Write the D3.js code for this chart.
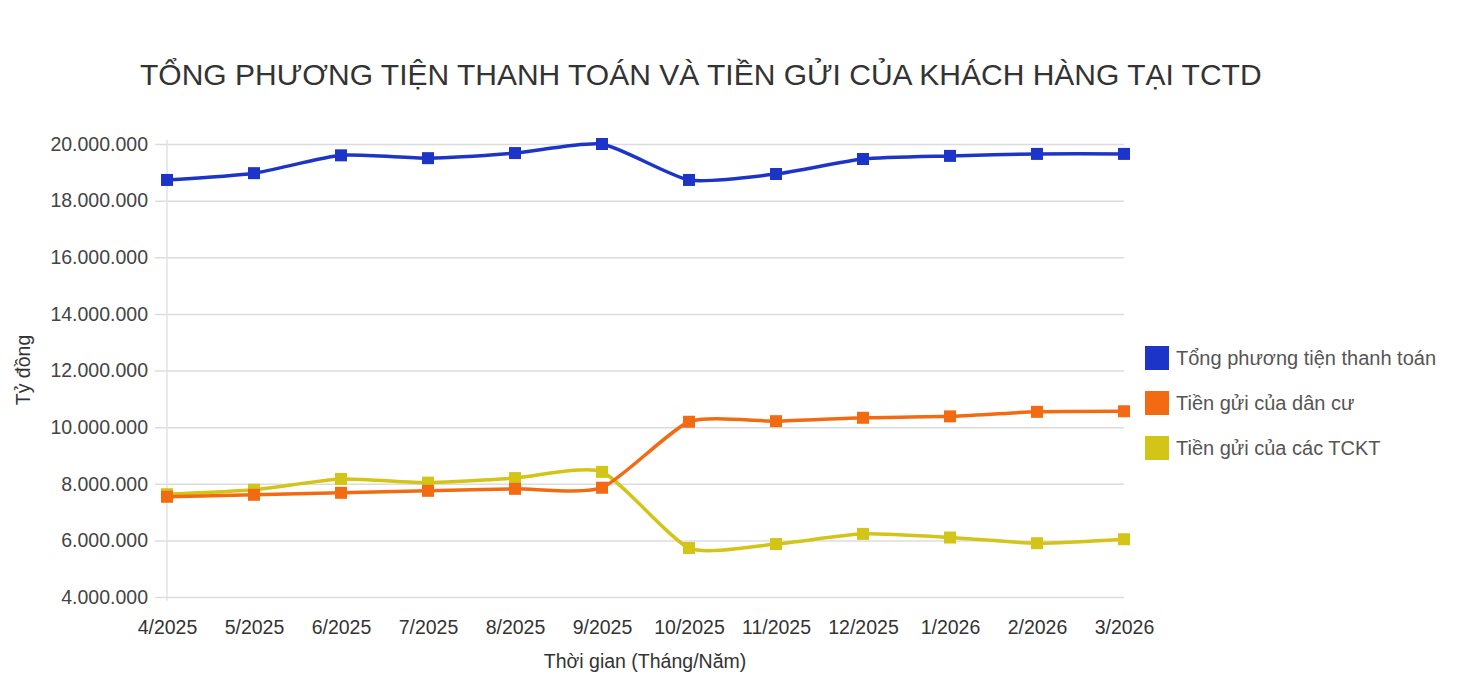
<!DOCTYPE html>
<html>
<head>
<meta charset="utf-8">
<script src="https://cdn.jsdelivr.net/npm/d3@7"></script>
<style>
  body { margin: 0; background: #fff; }
  svg text { font-family: "Liberation Sans", Arial, sans-serif; }
</style>
</head>
<body>
<div id="chart"></div>
<script>
// Data for the chart
const months = ["4/2025", "5/2025", "6/2025", "7/2025", "8/2025", "9/2025",
                "10/2025", "11/2025", "12/2025", "1/2026", "2/2026", "3/2026"];
const tongPhuongTien = [18730000, 18970000, 19600000, 19500000, 19680000, 20000000,
                        18730000, 18940000, 19470000, 19580000, 19650000, 19650000];
const tienGuiDanCu = [7540000, 7610000, 7680000, 7750000, 7820000, 7860000,
                      10190000, 10210000, 10330000, 10380000, 10540000, 10560000];
const tienGuiTCKT = [7630000, 7790000, 8170000, 8040000, 8200000, 8420000,
                     5730000, 5870000, 6230000, 6100000, 5900000, 6040000];
const yTicks = [4000000, 6000000, 8000000, 10000000, 12000000, 14000000, 16000000, 18000000, 20000000];

const series = [
    { name: "Tổng phương tiện thanh toán", values: tongPhuongTien, color: "#1c35c8" },
    { name: "Tiền gửi của dân cư", values: tienGuiDanCu, color: "#f26b12" },
    { name: "Tiền gửi của các TCKT", values: tienGuiTCKT, color: "#d3c418" }
];

const W = 1460, H = 696;
const plot = { left: 167, right: 1124, top: 144, bottom: 597 };

const svg = d3.select("#chart")
    .append("svg")
    .attr("width", W)
    .attr("height", H);

const locale = d3.formatLocale({ decimal: ",", thousands: ".", grouping: [3], currency: ["", ""] });
const fmt = locale.format(",d");

// Scales
const x = d3.scalePoint()
    .domain(months)
    .range([plot.left, plot.right]);

const y = d3.scaleLinear()
    .domain([4000000, 20000000])
    .range([plot.bottom, plot.top]);

// Title
svg.append("text")
    .attr("x", 140)
    .attr("y", 85)
    .attr("font-size", 30)
    .attr("fill", "#333")
    .text("TỔNG PHƯƠNG TIỆN THANH TOÁN VÀ TIỀN GỬI CỦA KHÁCH HÀNG TẠI TCTD");

// Gridlines + y labels
const yAxis = svg.append("g")
    .attr("transform", `translate(${plot.right},0)`)
    .call(d3.axisLeft(y).tickValues(yTicks).tickSize(plot.right - 155).tickFormat(fmt).tickPadding(7));
yAxis.select(".domain").remove();
yAxis.selectAll(".tick line").attr("stroke", "#dcdcdc").attr("stroke-width", 1.5);
yAxis.selectAll(".tick text")
    .attr("font-size", 19.5)
    .attr("fill", "#444");

// Vertical baseline
svg.append("line")
    .attr("x1", plot.left).attr("x2", plot.left)
    .attr("y1", plot.top - 4).attr("y2", plot.bottom + 4)
    .attr("stroke", "#e2e2e2")
    .attr("stroke-width", 1.5);

// X axis labels
const xAxis = svg.append("g")
    .attr("transform", `translate(0,${plot.bottom})`)
    .call(d3.axisBottom(x).tickSize(0).tickPadding(23));
xAxis.select(".domain").remove();
xAxis.selectAll(".tick text")
    .attr("font-size", 19.5)
    .attr("fill", "#333");

// Axis titles
svg.append("text")
    .attr("x", 645)
    .attr("y", 668)
    .attr("text-anchor", "middle")
    .attr("font-size", 19.5)
    .attr("fill", "#333")
    .text("Thời gian (Tháng/Năm)");

svg.append("text")
    .attr("transform", "translate(30,370) rotate(-90)")
    .attr("text-anchor", "middle")
    .attr("font-size", 19.5)
    .attr("fill", "#333")
    .text("Tỷ đồng");

// Lines
const line = d3.line()
    .x((d, i) => x(months[i]))
    .y(d => y(d))
    .curve(d3.curveCardinal.tension(0.4));

const drawOrder = [series[0], series[2], series[1]];
drawOrder.forEach(s => {
    svg.append("path")
        .datum(s.values)
        .attr("fill", "none")
        .attr("stroke", s.color)
        .attr("stroke-width", 3.5)
        .attr("d", line);

    svg.selectAll(null)
        .data(s.values)
        .enter()
        .append("rect")
        .attr("x", (d, i) => x(months[i]) - 6)
        .attr("y", d => y(d) - 6)
        .attr("width", 12)
        .attr("height", 12)
        .attr("fill", s.color);
});

// Legend
const legend = svg.append("g")
    .attr("transform", "translate(1145,346)");

const item = legend.selectAll("g")
    .data(series)
    .enter()
    .append("g")
    .attr("transform", (d, i) => `translate(0,${i * 45})`);

item.append("rect")
    .attr("width", 24)
    .attr("height", 24)
    .attr("fill", d => d.color);

item.append("text")
    .attr("x", 31)
    .attr("y", 19)
    .attr("font-size", 20)
    .attr("fill", "#555")
    .text(d => d.name);
</script>
</body>
</html>
